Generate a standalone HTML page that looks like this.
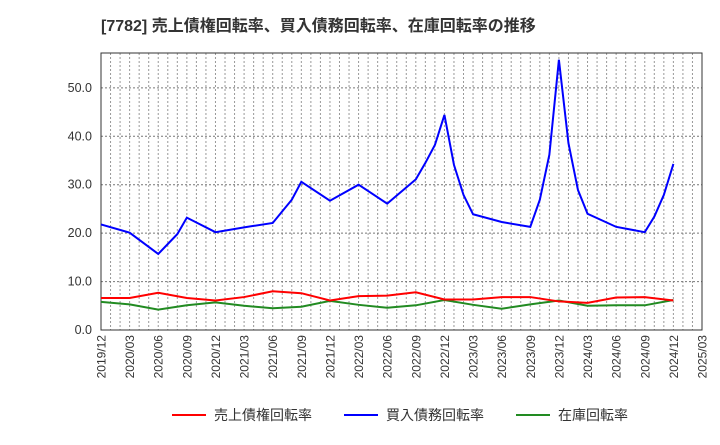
<!DOCTYPE html>
<html><head><meta charset="utf-8"><style>
body{margin:0;background:#fff;font-family:"Liberation Sans","Noto Sans CJK JP",sans-serif}
</style></head><body>
<svg id="c" width="720" height="440" font-family="Liberation Sans, Noto Sans CJK JP, sans-serif"></svg>
<script>
const xTickLabels=["2019/12","2020/03","2020/06","2020/09","2020/12","2021/03","2021/06","2021/09","2021/12","2022/03","2022/06","2022/09","2022/12","2023/03","2023/06","2023/09","2023/12","2024/03","2024/06","2024/09","2024/12","2025/03"];
const yTicks=[0,10,20,30,40,50];
const blueMonths=[0,3,6,8,9,12,15,18,20,21,24,27,30,33,34,35,36,37,38,39,42,45,46,47,48,49,50,51,54,57,58,59,60];
const blueVals=[21.8,20.1,15.7,19.8,23.2,20.2,21.2,22.1,26.9,30.6,26.7,30.0,26.1,31.1,34.5,38.2,44.4,34.1,27.9,23.9,22.3,21.3,26.9,36.2,55.8,38.6,28.9,24.0,21.3,20.2,23.4,27.9,34.3];
const qMonths=[0,3,6,9,12,15,18,21,24,27,30,33,36,39,42,45,48,51,54,57,60];
const redVals=[6.6,6.6,7.7,6.6,6.1,6.8,8.0,7.6,6.1,7.0,7.1,7.8,6.3,6.3,6.8,6.8,5.9,5.6,6.7,6.8,6.1];
const greenVals=[5.8,5.3,4.2,5.1,5.7,5.0,4.5,4.8,6.0,5.2,4.6,5.1,6.2,5.2,4.4,5.3,6.1,5.0,5.1,5.1,6.2];
const L=101,R=702,T=53,B=330,yMax=57.2,nM=63;
const X=m=>L+(R-L)*m/nM, Y=v=>B-(B-T)*v/yMax;
const s=document.getElementById('c'),NS='http://www.w3.org/2000/svg';
function mk(t,a,p){const e=document.createElementNS(NS,t);for(const k in a)e.setAttribute(k,a[k]);(p||s).appendChild(e);return e;}
let t=mk('text',{x:101,y:31,'font-size':16,'font-weight':'bold',fill:'#333'});t.textContent='[7782]  売上債権回転率、買入債務回転率、在庫回転率の推移';

for(let m=1;m<nM;m++){const g=mk('line',{x1:X(m),x2:X(m),y1:T,y2:B,stroke:'#999','stroke-dasharray':'2,2','stroke-width':1});}
yTicks.forEach(v=>{if(v>0){const g=mk('line',{x1:L,x2:R,y1:Y(v),y2:Y(v),stroke:'#777','stroke-dasharray':'2,2'});}
const tx=mk('text',{x:92,y:Y(v)+4,'text-anchor':'end','font-size':12.5,fill:'#333'});tx.textContent=v.toFixed(1);});
xTickLabels.forEach((l,i)=>{const x=X(i*3);const tx=mk('text',{x:0,y:0,'text-anchor':'end','font-size':12,fill:'#333',transform:`translate(${x+4.5},335) rotate(-90)`});tx.textContent=l;});
const fr=mk('rect',{x:L,y:T,width:R-L,height:B-T,fill:'none',stroke:'#333','stroke-width':1});
function line(ms,vs,c,n){const p=mk('polyline',{points:ms.map((m,i)=>X(m)+','+Y(vs[i])).join(' '),fill:'none',stroke:c,'stroke-width':2});}
line(qMonths,greenVals,'#228B22','inventory-turnover-line');
line(qMonths,redVals,'#ff0000','receivables-turnover-line');
line(blueMonths,blueVals,'#0000ff','payables-turnover-line');
[['売上債権回転率','#ff0000',172],['買入債務回転率','#0000ff',344],['在庫回転率','#228B22',516]].forEach(([n,c,x])=>{
const g=mk('g',{});
mk('line',{x1:x,x2:x+34,y1:415,y2:415,stroke:c,'stroke-width':2},g);
const tx=mk('text',{x:x+42,y:420,'font-size':14,fill:'#333'},g);tx.textContent=n;});
</script>
</body></html>
